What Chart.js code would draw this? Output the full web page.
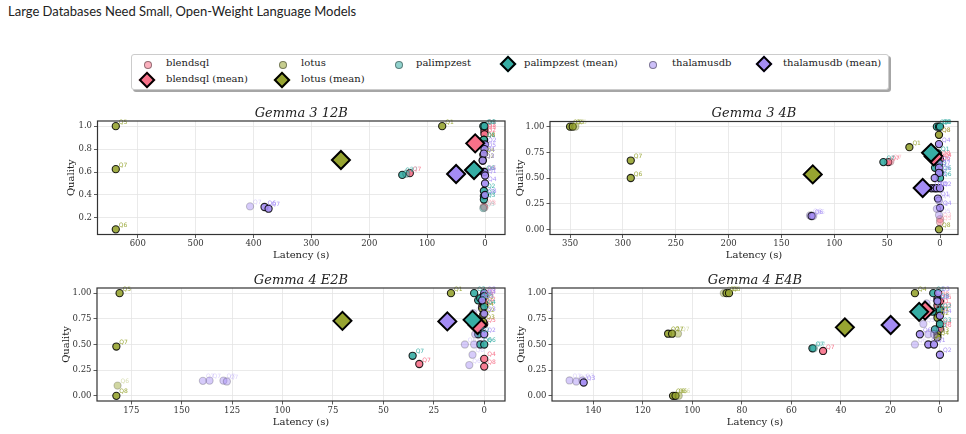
<!DOCTYPE html>
<html>
<head>
<meta charset="utf-8">
<script src="https://cdn.jsdelivr.net/npm/chart.js@4.4.1/dist/chart.umd.min.js"></script>
<style>
  body { margin: 0; width: 966px; height: 434px; background: #fff; position: relative; overflow: hidden; font-family: 'DejaVu Serif', serif; }
  #title { position: absolute; left: 8px; top: 3px; font: 13px Lato, sans-serif; color: #222; white-space: nowrap; }
  canvas { position: absolute; }
  #legend { position: absolute; left: 131px; top: 54px; width: 756px; height: 34px; border: 1px solid #ccc; border-radius: 3px; box-shadow: 2px 2px 0 rgba(0,0,0,0.35); background: #fff; }
  .lbl { position: absolute; font-size: 10px; color: #222; line-height: 12px; white-space: nowrap; }
  .dot { position: absolute; width: 6px; height: 6px; border-radius: 50%; border: 0.8px solid rgba(0,0,0,0.4); }
  .dia { position: absolute; width: 8px; height: 8px; border: 2px solid #000; transform: rotate(45deg); }
</style>
</head>
<body>
<div id="title">Large Databases Need Small, Open-Weight Language Models</div>
<div id="legend"></div>
<canvas id="p1" width="510" height="165"></canvas>
<canvas id="p2" width="456" height="165"></canvas>
<canvas id="p3" width="510" height="169"></canvas>
<canvas id="p4" width="456" height="169"></canvas>
<script>
// systems and colours
const systems = ['blendsql', 'lotus', 'palimpzest', 'thalamusdb'];
const colors = ['#f77189', '#97a431', '#36ada4', '#a48cf4'];

// [latency s, quality, query, faded]
// Gemma 3 12B
const g3_12b_blendsql = [[130,0.59,'Q7'],[1,1.0,'Q1'],[1,0.97,'Q3'],[1,0.95,'Q5'],[1,0.93,'Q2'],[2,0.88,'Q6'],[1,0.6,'Q4',1],[2,0.3,'Q5',1],[1,0.29,'Q8',1]];
const g3_12b_lotus = [[638,1.0,'Q5'],[638,0.625,'Q7'],[638,0.1,'Q6'],[74,1.0,'Q1'],[2,0.88,'Q8'],[3,0.75,'Q4'],[4,0.7,'Q2'],[2,0.6,'Q3',1]];
const g3_12b_palimpzest = [[143,0.575,'Q7'],[136,0.585,'Q7',1],[3,1.0,'Q6'],[1,1.0,'Q8'],[2,0.88,'Q1'],[3,0.6,'Q6'],[2,0.435,'Q2'],[2,0.39,'Q3'],[2,0.36,'Q3'],[3,0.285,'Q5',1]];
const g3_12b_thalamusdb = [[406,0.3,'Q7',1],[381,0.295,'Q6'],[374,0.28,'Q7'],[0,0.84,'Q2'],[1,0.8,'Q5'],[2,0.76,'Q1'],[4,0.7,'Q3'],[1,0.6,'Q6'],[0,0.57,'Q1'],[0,0.5,'Q4'],[0,0.4,'Q8']];
const g3_12b_means = [[17,0.85],[249,0.705],[19,0.617],[50,0.583]];
const g3_12b_xticks = [0,100,200,300,400,500,600];
const g3_12b_yticks = [0.2,0.4,0.6,0.8,1.0];

// Gemma 3 4B
const g3_4b_blendsql = [[49,0.655,'Q7'],[47,0.66,'Q7',1],[1,0.92,'Q8',1],[1,0.7,'Q8'],[0,0.68,'Q4'],[1,0.65,'Q6'],[0,0.1,'Q3',1],[0,0.07,'Q5',1]];
const g3_4b_lotus = [[350,1.0,'Q5'],[347.5,1.0,'Q5'],[345,1.0,'Q5',1],[292.6,0.67,'Q7'],[292.6,0.5,'Q6'],[29,0.8,'Q1'],[1,0.92,'Q8'],[1,0.0,'Q8']];
const g3_4b_palimpzest = [[53.6,0.655,'Q7'],[3,1.0,'Q8'],[1,1.0,'Q8'],[0,1.0,'Q8'],[2,0.74,'Q1'],[4.7,0.6,'Q3'],[0,0.55,'Q6'],[0,0.5,'Q6']];
const g3_4b_thalamusdb = [[123,0.135,'Q6',1],[121.5,0.13,'Q6'],[120,0.13,'Q6',1],[1,0.83,'Q4'],[1,0.64,'Q2'],[1,0.6,'Q7'],[1,0.55,'Q5'],[5,0.5,'Q3'],[8,0.4,'Q2'],[5,0.4,'Q2'],[3,0.4,'Q2'],[0,0.4,'Q2'],[2,0.3,'Q1'],[1,0.28,'Q4',1],[0,0.21,'Q4'],[3,0.2,'Q8',1],[1,0.14,'Q5',1]];
const g3_4b_means = [[6,0.71],[120.4,0.535],[8.5,0.745],[16.4,0.403]];
const g3_4b_xticks = [0,50,100,150,200,250,300,350];
const g3_4b_yticks = [0,0.25,0.5,0.75,1.0];

// Gemma 4 E2B
const g4_e2b_blendsql = [[32.2,0.31,'Q7'],[0,0.36,'Q4'],[0,0.285,'Q8'],[0,0.7,'Q5'],[1,0.95,'Q4'],[0,0.9,'Q2'],[0,0.98,'Q3'],[1,0.87,'Q1']];
const g4_e2b_lotus = [[180.8,1.0,'Q5'],[182.4,0.48,'Q7'],[181.8,0.1,'Q6',1],[182.4,0.0,'Q8'],[16.5,1.0,'Q1'],[1,0.92,'Q3'],[1,0.85,'Q4'],[0.5,0.79,'Q2'],[0.5,0.72,'Q3']];
const g4_e2b_palimpzest = [[35.5,0.39,'Q7'],[5,1.0,'Q3'],[3,0.93,'Q1'],[2,0.95,'Q8'],[0,0.87,'Q4'],[3,0.6,'Q2'],[2,0.5,'Q6'],[0,0.5,'Q6']];
const g4_e2b_thalamusdb = [[139.5,0.146,'Q7',1],[136.2,0.148,'Q7',1],[129.3,0.148,'Q7',1],[127.6,0.14,'Q7',1],[0,1.0,'Q8'],[0,0.97,'Q4'],[1,0.93,'Q3'],[5.4,0.805,'Q1',1],[0,0.8,'Q3'],[0,0.6,'Q2'],[4.5,0.6,'Q5',1],[9.6,0.5,'Q6',1],[5,0.5,'Q1',1],[5.8,0.4,'Q6',1],[7.4,0.3,'Q6',1]];
const g4_e2b_means = [[3.3,0.69],[70.3,0.73],[5.8,0.74],[18.3,0.725]];
const g4_e2b_xticks = [0,25,50,75,100,125,150,175];
const g4_e2b_yticks = [0,0.25,0.5,0.75,1.0];

// Gemma 4 E4B
const g4_e4b_blendsql = [[47.2,0.437,'Q7'],[1,0.95,'Q8'],[0,0.92,'Q5'],[1,0.88,'Q1'],[0,0.84,'Q3'],[1,0.8,'Q2'],[0,0.68,'Q4'],[0,0.65,'Q6']];
const g4_e4b_lotus = [[87.3,1.0,'Q5',1],[86.2,1.0,'Q5'],[85.2,1.0,'Q5'],[109.8,0.605,'Q7'],[108.2,0.605,'Q7'],[105.8,0.605,'Q7',1],[107.8,0.0,'Q6'],[106.8,0.0,'Q6'],[105.5,0.0,'Q6',1],[10.1,1.0,'Q4'],[1,0.8,'Q1'],[1,0.76,'Q2'],[1,0.6,'Q3'],[1,0.57,'Q4']];
const g4_e4b_palimpzest = [[51.5,0.463,'Q7'],[50.9,0.463,'Q7',1],[2.7,1.0,'Q1'],[1,0.93,'Q8'],[3,0.82,'Q5'],[0,0.83,'Q2'],[2,0.647,'Q3'],[0,0.7,'Q3']];
const g4_e4b_thalamusdb = [[149.6,0.15,'Q7',1],[146.9,0.14,'Q7',1],[144.4,0.15,'Q3',1],[143.9,0.13,'Q3'],[0.7,1.0,'Q3'],[5.4,0.9,'Q1',1],[1,0.92,'Q8'],[0,0.78,'Q4'],[6.7,0.7,'Q5',1],[8.1,0.6,'Q6'],[4.7,0.6,'Q5',1],[2.4,0.6,'Q6',1],[10.1,0.5,'Q6',1],[4.7,0.5,'Q6'],[2.4,0.5,'Q1'],[0,0.4,'Q2']];
const g4_e4b_means = [[6,0.83],[38.4,0.667],[8.4,0.818],[19.9,0.69]];
const g4_e4b_xticks = [0,20,40,60,80,100,120,140];
const g4_e4b_yticks = [0,0.25,0.5,0.75,1.0];

function rgba(hex, a) {
  const n = parseInt(hex.slice(1), 16);
  return `rgba(${n >> 16},${(n >> 8) & 255},${n & 255},${a})`;
}

const SERIF = '"DejaVu Serif", serif';

const decor = {
  id: 'decor',
  afterDatasetsDraw(chart) {
    const c = chart.ctx;
    c.save();
    c.font = '6px "DejaVu Sans", sans-serif';
    c.textBaseline = 'middle';
    c.textAlign = 'left';
    chart.data.datasets.forEach((ds, i) => {
      if (!ds.pts) return;
      const meta = chart.getDatasetMeta(i);
      meta.data.forEach((el, j) => {
        const p = ds.pts[j];
        c.fillStyle = rgba(ds.base, p[3] ? 0.4 : 0.95);
        c.fillText(p[2], el.x + 3, el.y - 4);
      });
    });
    c.restore();
  },
  afterDraw(chart, args, opts) {
    const a = chart.chartArea, c = chart.ctx;
    c.save();
    c.strokeStyle = '#333';
    c.lineWidth = 1.2;
    c.strokeRect(a.left, a.top, a.right - a.left, a.bottom - a.top);
    c.fillStyle = '#222';
    c.textAlign = 'center';
    c.textBaseline = 'middle';
    c.font = 'italic 13px ' + SERIF;
    c.fillText(opts.title, (a.left + a.right) / 2, a.top - 7.5);
    c.font = '10px ' + SERIF;
    c.fillText('Latency (s)', (a.left + a.right) / 2, a.bottom + 21);
    c.translate(a.left - opts.yOff, (a.top + a.bottom) / 2);
    c.rotate(-Math.PI / 2);
    c.fillText('Quality', 0, 0);
    c.restore();
  }
};

function makePanel(id, cfg) {
  const cv = document.getElementById(id);
  cv.style.left = cfg.cx + 'px';
  cv.style.top = cfg.cy + 'px';
  const datasets = [];
  cfg.series.forEach((pts, i) => {
    datasets.push({
      label: systems[i] + ' (mean)',
      data: [{ x: cfg.means[i][0], y: cfg.means[i][1] }],
      pointStyle: 'rectRot',
      pointRadius: 9,
      backgroundColor: colors[i],
      borderColor: '#000',
      borderWidth: 2,
      order: 10 - i
    });
    datasets.push({
      label: systems[i],
      base: colors[i],
      pts: pts,
      data: pts.map(p => ({ x: p[0], y: p[1] })),
      pointRadius: 3.6,
      borderWidth: 1.1,
      backgroundColor: pts.map(p => rgba(colors[i], p[3] ? 0.45 : 0.9)),
      borderColor: pts.map(p => p[3] ? 'rgba(0,0,0,0.2)' : 'rgba(0,0,0,0.85)'),
      order: 20 - i
    });
  });
  const grid = { color: '#e4e4e4', lineWidth: 0.8, tickColor: '#333', tickLength: 3.5, drawTicks: true };
  const tickFont = { family: SERIF, size: 8.5 };
  new Chart(cv, {
    type: 'scatter',
    data: { datasets },
    options: {
      responsive: false,
      animation: false,
      events: [],
      layout: { padding: { top: cfg.padTop, right: cfg.padRight, left: 0, bottom: 0 }, autoPadding: false },
      plugins: {
        legend: { display: false },
        tooltip: { enabled: false },
        decor: { title: cfg.title, yOff: cfg.yOff }
      },
      scales: {
        x: {
          type: 'linear', position: 'bottom', reverse: true,
          min: cfg.xMin, max: cfg.xMax,
          afterBuildTicks: s => { s.ticks = cfg.xTicks.map(v => ({ value: v })); },
          afterFit: s => { s.height = cfg.xH; },
          grid, border: { display: false },
          ticks: { font: tickFont, color: '#333', padding: 1, maxRotation: 0, autoSkip: false }
        },
        y: {
          type: 'linear', position: 'left',
          min: cfg.yMin, max: cfg.yMax,
          afterBuildTicks: s => { s.ticks = cfg.yTicks.map(v => ({ value: v })); },
          afterFit: s => { s.width = cfg.yW; },
          grid, border: { display: false },
          ticks: { font: tickFont, color: '#333', padding: 2, autoSkip: false, callback: v => v.toFixed(cfg.yDec) }
        }
      }
    },
    plugins: [decor]
  });
}

makePanel('p1', { cx: 0, cy: 98, padTop: 23, padRight: 5, yW: 97.5, xH: 28.5, yOff: 26.5,
  title: 'Gemma 3 12B', xMin: -34.5, xMax: 669.6, yMin: 0.055, yMax: 1.045, yDec: 1,
  xTicks: g3_12b_xticks, yTicks: g3_12b_yticks, means: g3_12b_means,
  series: [g3_12b_blendsql, g3_12b_lotus, g3_12b_palimpzest, g3_12b_thalamusdb] });
makePanel('p2', { cx: 510, cy: 98, padTop: 23.5, padRight: 8, yW: 40, xH: 28.5, yOff: 29.5,
  title: 'Gemma 3 4B', xMin: -17, xMax: 369, yMin: -0.05, yMax: 1.05, yDec: 2,
  xTicks: g3_4b_xticks, yTicks: g3_4b_yticks, means: g3_4b_means,
  series: [g3_4b_blendsql, g3_4b_lotus, g3_4b_palimpzest, g3_4b_thalamusdb] });
makePanel('p3', { cx: 0, cy: 265, padTop: 23, padRight: 5, yW: 97, xH: 33, yOff: 31,
  title: 'Gemma 4 E2B', xMin: -10.3, xMax: 192, yMin: -0.05, yMax: 1.05, yDec: 2,
  xTicks: g4_e2b_xticks, yTicks: g4_e2b_yticks, means: g4_e2b_means,
  series: [g4_e2b_blendsql, g4_e2b_lotus, g4_e2b_palimpzest, g4_e2b_thalamusdb] });
makePanel('p4', { cx: 510, cy: 265, padTop: 23, padRight: 8, yW: 42, xH: 33, yOff: 31,
  title: 'Gemma 4 E4B', xMin: -7.3, xMax: 156.7, yMin: -0.05, yMax: 1.05, yDec: 2,
  xTicks: g4_e4b_xticks, yTicks: g4_e4b_yticks, means: g4_e4b_means,
  series: [g4_e4b_blendsql, g4_e4b_lotus, g4_e4b_palimpzest, g4_e4b_thalamusdb] });

// legend (column-major, like the original)
const legendItems = [
  { name: 'blendsql', c: 0, mean: false, col: 0, row: 0 },
  { name: 'blendsql (mean)', c: 0, mean: true, col: 0, row: 1 },
  { name: 'lotus', c: 1, mean: false, col: 1, row: 0 },
  { name: 'lotus (mean)', c: 1, mean: true, col: 1, row: 1 },
  { name: 'palimpzest', c: 2, mean: false, col: 2, row: 0 },
  { name: 'palimpzest (mean)', c: 2, mean: true, col: 3, row: 0 },
  { name: 'thalamusdb', c: 3, mean: false, col: 4, row: 0 },
  { name: 'thalamusdb (mean)', c: 3, mean: true, col: 5, row: 0 }
];
const colMarkX = [15, 150, 266, 376, 520, 632];
const colTextX = [34, 169, 284, 392, 540, 651];
const rowY = [9, 24.5];
const leg = document.getElementById('legend');
legendItems.forEach(it => {
  const m = document.createElement('div');
  if (it.mean) {
    m.className = 'dia';
    m.style.background = colors[it.c];
    m.style.left = (colMarkX[it.col] - 6) + 'px';
    m.style.top = (rowY[it.row] - 6) + 'px';
  } else {
    m.className = 'dot';
    m.style.background = rgba(colors[it.c], 0.55);
    m.style.left = (colMarkX[it.col] - 3.4) + 'px';
    m.style.top = (rowY[it.row] - 3.4) + 'px';
  }
  leg.appendChild(m);
  const t = document.createElement('div');
  t.className = 'lbl';
  t.textContent = it.name;
  t.style.left = colTextX[it.col] + 'px';
  t.style.top = (rowY[it.row] - 7) + 'px';
  leg.appendChild(t);
});
</script>
</body>
</html>
